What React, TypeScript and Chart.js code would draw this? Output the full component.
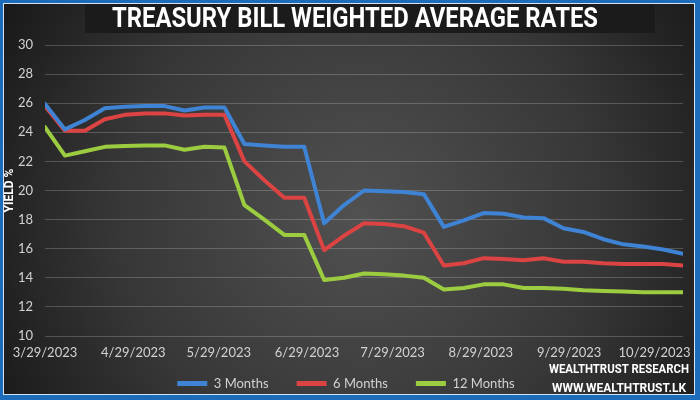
import React, { useEffect, useRef } from "react";
import { Chart, registerables } from "chart.js";

Chart.register(...registerables);

// ---- data ----
const auctionDates = [
  "3/29/2023", "4/5/2023", "4/12/2023", "4/19/2023", "4/26/2023",
  "5/3/2023", "5/10/2023", "5/17/2023", "5/24/2023", "5/31/2023",
  "6/7/2023", "6/14/2023", "6/21/2023", "6/28/2023", "7/5/2023",
  "7/12/2023", "7/19/2023", "7/26/2023", "8/2/2023", "8/9/2023",
  "8/16/2023", "8/23/2023", "8/30/2023", "9/6/2023", "9/13/2023",
  "9/20/2023", "9/27/2023", "10/4/2023", "10/11/2023", "10/18/2023",
  "10/25/2023", "11/1/2023", "11/8/2023",
];

const threeMonths = [
  25.95, 24.2, 24.85, 25.65, 25.75, 25.8, 25.8, 25.5, 25.7, 25.7,
  23.2, 23.1, 23.0, 23.0, 17.75, 19.0, 20.0, 19.95, 19.9, 19.75,
  17.5, 17.95, 18.45, 18.4, 18.15, 18.1, 17.4, 17.15, 16.65, 16.3,
  16.15, 15.95, 15.65,
];

const sixMonths = [
  25.8, 24.1, 24.1, 24.9, 25.2, 25.3, 25.3, 25.15, 25.2, 25.2,
  22.0, 20.7, 19.5, 19.5, 15.9, 16.9, 17.75, 17.7, 17.55, 17.1,
  14.85, 15.0, 15.35, 15.3, 15.2, 15.35, 15.1, 15.1, 15.0, 14.95,
  14.95, 14.95, 14.85,
];

const twelveMonths = [
  24.35, 22.4, 22.7, 23.0, 23.05, 23.1, 23.1, 22.8, 23.0, 22.95,
  19.0, 18.0, 16.95, 16.95, 13.85, 14.0, 14.3, 14.25, 14.15, 14.0,
  13.2, 13.3, 13.55, 13.55, 13.3, 13.3, 13.25, 13.15, 13.1, 13.05,
  13.0, 13.0, 13.0,
];

const xTickLabels = [
  "3/29/2023", "4/29/2023", "5/29/2023", "6/29/2023",
  "7/29/2023", "8/29/2023", "9/29/2023", "10/29/2023",
];

const seriesNames = ["3 Months", "6 Months", "12 Months"];
const seriesColors = ["#3f83d4", "#dc4343", "#9ccc3f"];

const titleText = "TREASURY BILL WEIGHTED AVERAGE RATES";
const yAxisTitle = "YIELD %";
const creditLines = ["WEALTHTRUST RESEARCH", "WWW.WEALTHTRUST.LK"];

const Y_MIN = 10;
const Y_MAX = 30;
const Y_STEP = 2;
const LAST_DAY_DATE = "11/8/2023";

// ---- helpers ----
function dayIndex(s: string): number {
  const [m, d, y] = s.split("/").map(Number);
  return Math.round((Date.UTC(y, m - 1, d) - Date.UTC(2023, 2, 29)) / 86400000);
}

function drawCondensed(
  ctx: CanvasRenderingContext2D,
  text: string,
  cx: number,
  cy: number,
  font: string,
  targetWidth: number,
  color: string
) {
  ctx.save();
  ctx.font = font;
  const w = ctx.measureText(text).width;
  const sx = Math.min(1.2, targetWidth / w);
  ctx.translate(cx, cy);
  ctx.scale(sx, 1);
  ctx.fillStyle = color;
  ctx.textAlign = "center";
  ctx.textBaseline = "middle";
  ctx.fillText(text, 0, 0);
  ctx.restore();
}

const LEGEND_TEXT_CENTER = 383.5;

const backgroundPlugin = {
  id: "bgFrame",
  beforeDraw(chart: any) {
    const { ctx, width, height } = chart;
    // place the legend row below the date labels
    const lg = chart.legend;
    if (lg) {
      const pad = lg.options.labels.padding;
      const fs = lg.options.labels.font.size || 13;
      lg.top = LEGEND_TEXT_CENTER - pad - fs / 2;
      lg.bottom = height;
      lg.height = lg.bottom - lg.top;
    }
    ctx.save();
    ctx.fillStyle = "#1d6cbc";
    ctx.fillRect(0, 0, width, height);
    ctx.fillStyle = "#d6e4f2";
    ctx.fillRect(3, 3, width - 8, height - 8);
    const g = ctx.createRadialGradient(360, 215, 0, 360, 215, 440);
    g.addColorStop(0, "#515151");
    g.addColorStop(0.55, "#373737");
    g.addColorStop(1, "#141414");
    ctx.fillStyle = g;
    ctx.fillRect(4, 4, width - 10, height - 10);
    // title band
    ctx.fillStyle = "#1b1b1b";
    ctx.fillRect(85, 4, 570, 29);
    ctx.restore();
  },
  afterDraw(chart: any) {
    const { ctx } = chart;
    drawCondensed(ctx, titleText, 355, 20, "bold 27px Roboto, 'DejaVu Sans', sans-serif", 486, "#ffffff");
    drawCondensed(ctx, creditLines[0], 619, 370, "bold 13px Roboto, 'DejaVu Sans', sans-serif", 140, "#ffffff");
    drawCondensed(ctx, creditLines[1], 619, 389, "bold 13px Roboto, 'DejaVu Sans', sans-serif", 134, "#ffffff");
  },
};

export default function App() {
  const canvasRef = useRef<HTMLCanvasElement | null>(null);

  useEffect(() => {
    const canvas = canvasRef.current;
    if (!canvas) return;
    const tickValues = xTickLabels.map(dayIndex);
    const labelByDay: Record<number, string> = {};
    xTickLabels.forEach((l) => (labelByDay[dayIndex(l)] = l));

    const seriesValues = [threeMonths, sixMonths, twelveMonths];
    const datasets = seriesValues.map((vals, i) => ({
      label: seriesNames[i],
      data: vals.map((v, j) => ({ x: dayIndex(auctionDates[j]), y: v })),
      borderColor: seriesColors[i],
      backgroundColor: seriesColors[i],
      borderWidth: 4,
      pointRadius: 0,
      tension: 0,
      borderJoinStyle: "round" as const,
      borderCapStyle: "round" as const,
    }));

    const tickFont = { family: "Lato, 'Open Sans', sans-serif", size: 13 };

    const chart = new Chart(canvas, {
      type: "line",
      data: { datasets },
      plugins: [backgroundPlugin],
      options: {
        animation: false,
        responsive: false,
        maintainAspectRatio: false,
        layout: { padding: { top: 45, left: 0, right: 8, bottom: 0 } },
        scales: {
          x: {
            type: "linear",
            min: 0,
            max: dayIndex(LAST_DAY_DATE),
            afterBuildTicks: (scale: any) => {
              scale.ticks = tickValues.map((v) => ({ value: v }));
            },
            afterFit: (scale: any) => {
              scale.height = 28;
            },
            ticks: {
              autoSkip: false,
              maxRotation: 0,
              minRotation: 0,
              padding: 9,
              color: "#d2d2d2",
              font: tickFont,
              callback: (v: any) => labelByDay[v as number] ?? "",
            },
            grid: { display: false, drawTicks: false },
            border: { display: false },
          },
          y: {
            min: Y_MIN,
            max: Y_MAX,
            afterFit: (scale: any) => {
              scale.width = 45;
            },
            ticks: {
              stepSize: Y_STEP,
              padding: 12,
              color: "#d2d2d2",
              font: tickFont,
            },
            grid: { color: "rgba(255,255,255,0.2)", lineWidth: 1, drawTicks: false },
            border: { display: false },
            title: {
              display: true,
              text: yAxisTitle,
              color: "#ffffff",
              font: { family: "Roboto, 'DejaVu Sans', sans-serif", size: 12, weight: "bold" },
              padding: { top: 3, bottom: 2 },
            },
          },
        },
        plugins: {
          title: { display: false },
          tooltip: { enabled: false },
          legend: {
            display: true,
            position: "bottom",
            maxHeight: 36,
            labels: {
              boxWidth: 30,
              boxHeight: 5,
              padding: 28,
              color: "#d2d2d2",
              font: tickFont,
              generateLabels: (c: any) =>
                Chart.defaults.plugins.legend.labels
                  .generateLabels(c)
                  .map((l: any) => ({ ...l, lineWidth: 0 })),
            },
          },
        },
      },
    });
    return () => chart.destroy();
  }, []);

  return (
    <div style={{ position: "absolute", left: 0, top: 0, width: 700, height: 400 }}>
      <canvas ref={canvasRef} width={700} height={400} style={{ width: 700, height: 400, display: "block" }} />
    </div>
  );
}
